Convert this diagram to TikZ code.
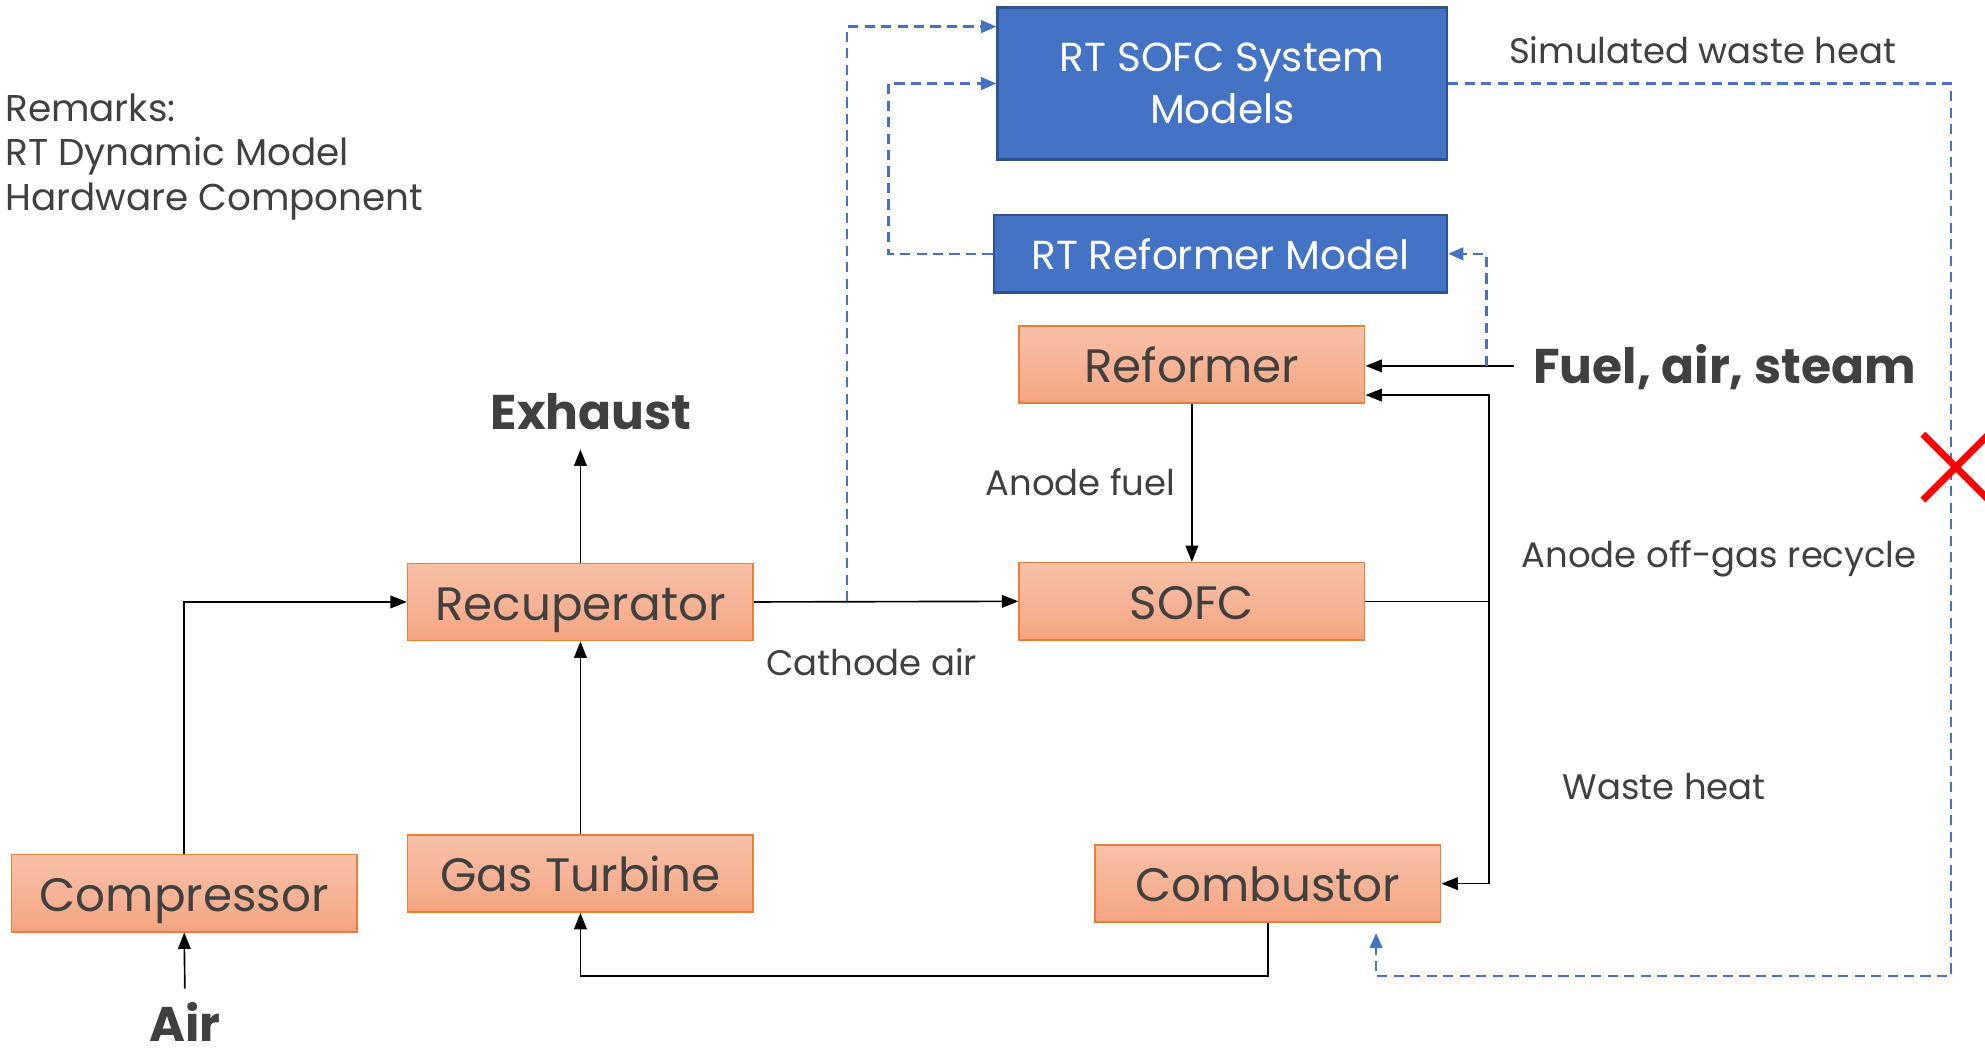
\documentclass[tikz,border=0pt]{standalone}
\usepackage{fontspec}
\setmainfont{Poppins}
\usetikzlibrary{arrows.meta,calc}
\definecolor{textgray}{HTML}{404040}
\definecolor{orTop}{HTML}{F8C1A8}
\definecolor{orBot}{HTML}{F4A582}
\definecolor{orBord}{HTML}{ED7D31}
\definecolor{blueF}{HTML}{4472C4}
\definecolor{blueB}{HTML}{2F528F}
\definecolor{xred}{HTML}{FF0000}
\tikzset{
  hw/.style={draw=orBord, line width=1.2pt, top color=orTop, bottom color=orBot,
    minimum width=273pt, minimum height=61pt, inner sep=0pt,
    text height=29pt, text depth=0pt,
    font=\fontsize{37}{40}\selectfont, text=textgray},
  rtbox/.style={draw=blueB, line width=2pt, fill=blueF, text=white, align=center,
    inner sep=0pt, font=\fontsize{32}{41}\selectfont},
  lbl/.style={inner sep=0pt, text=textgray, font=\fontsize{28}{35.5}\selectfont},
  remlbl/.style={inner sep=0pt, text=textgray, font=\fontsize{29.5}{35.5}\selectfont},
  boldlbl/.style={inner sep=0pt, text=textgray, font=\fontsize{38.5}{40}\selectfont\bfseries},
  flow/.style={draw=black, line width=1.3pt, -{Triangle[length=13pt,width=10pt]}},
  plain/.style={draw=black, line width=1.3pt},
  dflow/.style={draw=blueF, line width=2pt, dash pattern=on 8pt off 5pt, -{Triangle[length=12pt,width=10pt]}},
}
\begin{document}
\begin{tikzpicture}[x=1pt,y=-1pt]
\useasboundingbox (0,0) rectangle (1568,833);
% hardware components
\node[hw] (comp) at (145.5,705.5) {Compressor};
\node[hw] (gt) at (458.5,690) {Gas Turbine};
\node[hw] (rec) at (458.5,475.5) {Recuperator};
\node[hw] (sofc) at (941.5,475) {SOFC};
\node[hw] (ref) at (941.5,288) {Reformer};
\node[hw] (comb) at (1001.5,698) {Combustor};
% RT models
\node[rtbox, minimum width=355pt, minimum height=120pt] (rtsofc) at (965.5,66) {RT SOFC System\\Models};
\node[rtbox, minimum width=358pt, minimum height=61pt] (rtref) at (964,200.5) {RT Reformer Model};
% texts
\node[remlbl, anchor=west, align=left] (rem) at (4,124) {Remarks:\\RT Dynamic Model\\Hardware Component};
\node[boldlbl] (exh) at (467,325) {Exhaust};
\node[boldlbl] (air) at (146,807) {Air};
\node[boldlbl, anchor=west] (fuel) at (1211,290) {Fuel, air, steam};
\node[lbl] (anf) at (853.5,381) {Anode fuel};
\node[lbl] (cat) at (688.5,523) {Cathode air};
\node[lbl] (aog) at (1358,441) {Anode off-gas recycle};
\node[lbl] (wh) at (1314.5,621) {Waste heat};
\node[lbl] (swh) at (1345,40) {Simulated waste heat};
% coordinates
\coordinate (airtop) at (146,781);
\coordinate (exhtip) at (458.5,355);
\coordinate (jn) at (1176,475);
\coordinate (fuelstart) at (1196,289);
\coordinate (bot) at (0,771);
\coordinate (d1) at (669,475);
\coordinate (fj) at (1174,289);
\coordinate (wr) at (1541,771);
\coordinate (wt) at (1087,737);
% black flows
\draw[flow] (airtop) -- (comp.south);
\draw[flow] (comp.north) |- (rec.west);
\draw[flow] (gt.north) -- (rec.south);
\draw[flow] (rec.north) -- (exhtip);
\draw[flow] (rec.east) -- (sofc.west);
\draw[flow] (ref.south) -- (sofc.north);
\draw[plain] (sofc.east) -- (jn);
\draw[flow] (jn) |- ($(ref.south east)+(0,-7)$);
\draw[flow] (jn) |- (comb.east);
\draw[flow] (fuelstart) -- (ref.east |- fuelstart);
\draw[flow] (comb.south) -- (comb.south |- bot) -| (gt.south);
% dashed model links
\draw[dflow] (d1) |- ($(rtsofc.north west)+(0,16)$);
\draw[dflow] (rtref.west) -- ++(-82,0) |- (rtsofc.west);
\draw[dflow] (fj) |- (rtref.east);
\draw[dflow] (rtsofc.east) -| (wr) -| (wt);
% red cross
\draw[xred, line width=5.5pt] (1519,343) -- (1571,395) (1519,395) -- (1571,343);
\end{tikzpicture}
\end{document}
